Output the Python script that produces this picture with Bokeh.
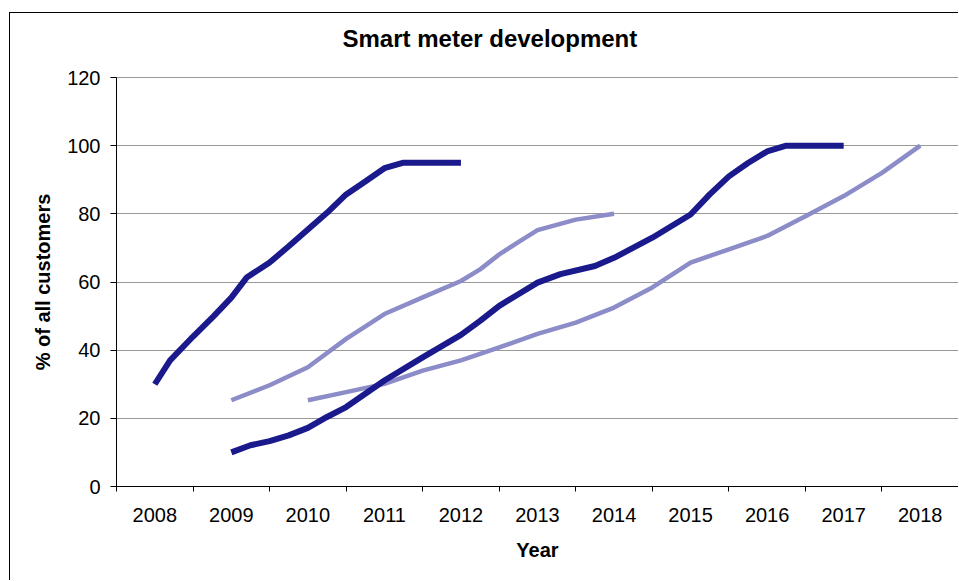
from bokeh.plotting import figure
from bokeh.models import Range1d, FixedTicker, Title
from bokeh.embed import file_html
from bokeh.resources import INLINE

# ---- data ----
title_text = "Smart meter development"
tick_years = [2008, 2009, 2010, 2011, 2012, 2013, 2014, 2015, 2016, 2017, 2018]
tick_labels = ["2008", "2009", "2010", "2011", "2012", "2013", "2014", "2015", "2016", "2017", "2018"]
y_ticks = [0, 20, 40, 60, 80, 100, 120]

a_years = [2008.0, 2008.2, 2008.5, 2008.77, 2009.0, 2009.2, 2009.5, 2009.75, 2010.0,
           2010.25, 2010.5, 2010.75, 2011.0, 2011.25, 2012.0]
a_vals = [30, 37, 44, 50, 55.4, 61.3, 65.7, 70.5, 75.4, 80.3, 85.7, 89.5, 93.4, 95, 95]

b_years = [2009.0, 2009.5, 2010.0, 2010.5, 2011.0, 2011.5, 2012.0, 2012.25, 2012.5,
           2012.77, 2013.0, 2013.5, 2014.0]
b_vals = [25.3, 29.7, 35.0, 43.3, 50.6, 55.5, 60.3, 63.7, 68.1, 72.0, 75.2, 78.3, 80.0]

c_years = [2009.0, 2009.25, 2009.5, 2009.75, 2010.0, 2010.25, 2010.5, 2011.0, 2011.5,
           2012.0, 2012.25, 2012.5, 2012.75, 2013.0, 2013.3, 2013.75, 2014.0, 2014.5,
           2015.0, 2015.25, 2015.5, 2015.75, 2016.0, 2016.25, 2017.0]
c_vals = [10.0, 12.1, 13.3, 15.0, 17.2, 20.4, 23.3, 31.1, 37.9, 44.5, 48.6, 53.0, 56.4,
          59.8, 62.3, 64.7, 67.1, 73.0, 79.8, 85.7, 91.0, 94.9, 98.3, 100, 100]

d_years = [2010.0, 2010.5, 2011.0, 2011.5, 2012.0, 2012.5, 2013.0, 2013.5, 2014.0,
           2014.5, 2015.0, 2015.5, 2016.0, 2016.5, 2017.0, 2017.5, 2018.0]
d_vals = [25.3, 27.7, 30.1, 34.0, 37.0, 40.8, 44.8, 48.1, 52.5, 58.4, 65.7, 69.6, 73.5,
          79.3, 85.2, 92.0, 100]

FONT = "Liberation Sans"
DARK = "#1a1a8c"
LIGHT = "#8c8cc9"

p = figure(width=949, height=568, output_backend="svg", toolbar_location=None,
           x_range=Range1d(tick_years[0] - 0.5, tick_years[-1] + 0.5), y_range=Range1d(0, 120),
           min_border_left=106, min_border_right=1, min_border_top=63, min_border_bottom=95)
p.margin = (12, 0, 0, 9)
p.styles = {"border-left": "1px solid black", "border-top": "1px solid black"}

# spacer between plot area and title, then the title itself
p.add_layout(Title(text=" ", text_font_size="1px", standoff=13), "above")
p.add_layout(Title(text=title_text, text_font=FONT, text_font_size="24px",
                   text_font_style="bold", text_color="black", align="left",
                   offset=226, standoff=19), "above")

p.outline_line_color = "#999999"
p.background_fill_color = "white"
p.border_fill_color = "white"
p.xgrid.grid_line_color = None
p.ygrid.grid_line_color = "#999999"
p.ygrid.grid_line_width = 1

# x axis: labels centred on categories, ticks between categories
minor = [tick_years[0] - 0.5] + [y + 0.5 for y in tick_years]
p.xaxis.ticker = FixedTicker(ticks=tick_years, minor_ticks=minor)
p.xaxis.major_label_overrides = {y: s for y, s in zip(tick_years, tick_labels)}
p.xaxis.major_tick_in = 0
p.xaxis.major_tick_out = 0
p.xaxis.minor_tick_in = 0
p.xaxis.minor_tick_out = 5
p.xaxis.minor_tick_line_color = "black"
p.xaxis.major_label_standoff = 16
p.xaxis.axis_label = "Year"
p.xaxis.axis_label_standoff = 14

p.yaxis.ticker = FixedTicker(ticks=y_ticks, minor_ticks=[])
p.yaxis.major_tick_in = 0
p.yaxis.major_tick_out = 6
p.yaxis.major_label_standoff = 10
p.yaxis.axis_label = "% of all customers"
p.yaxis.axis_label_standoff = 10

for ax in (p.xaxis, p.yaxis):
    ax.axis_line_color = "black"
    ax.major_tick_line_color = "black"
    ax.major_label_text_font = FONT
    ax.major_label_text_font_size = "20px"
    ax.major_label_text_color = "black"
    ax.axis_label_text_font = FONT
    ax.axis_label_text_font_size = "20px"
    ax.axis_label_text_font_style = "bold"
    ax.axis_label_text_color = "black"

p.line(b_years, b_vals, line_color=LIGHT, line_width=4.5)
p.line(d_years, d_vals, line_color=LIGHT, line_width=4.5)
p.line(a_years, a_vals, line_color=DARK, line_width=6)
p.line(c_years, c_vals, line_color=DARK, line_width=6)

open("out.html", "w").write(file_html(p, INLINE))
